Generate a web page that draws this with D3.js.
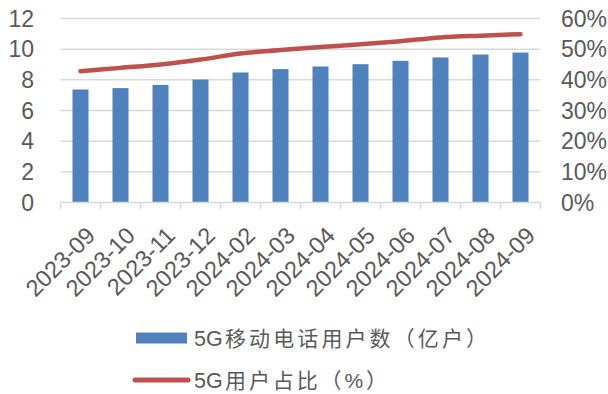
<!DOCTYPE html>
<html><head><meta charset="utf-8">
<script src="https://cdn.jsdelivr.net/npm/d3@7/dist/d3.min.js"></script>
<style>body{margin:0;background:#fff}svg{display:block}</style>
</head><body>
<script>
const categories = ["2023-09","2023-10","2023-11","2023-12","2024-02","2024-03","2024-04","2024-05","2024-06","2024-07","2024-08","2024-09"];
const users = [7.37,7.46,7.67,8.02,8.48,8.70,8.87,9.02,9.24,9.46,9.65,9.78];
const share = [42.8,43.9,45.0,46.6,48.6,49.7,50.7,51.6,52.6,53.8,54.4,54.9];
const leftTicks = [0,2,4,6,8,10,12];
const rightTicks = [0,10,20,30,40,50,60];
const legendBar = ["5G","移动电话用户数（亿户）"];
const legendLine = ["5G","用户占比（%）"];

const W=608,H=394;
const svg=d3.select("body").append("svg").attr("width",W).attr("height",H);
const x=d3.scaleBand().domain(categories).range([60.5,540.5]).paddingInner(0.6).paddingOuter(0.3);
const xb=d3.scaleBand().domain(categories).range([60.5,540.5]);
const yL=d3.scaleLinear().domain([0,12]).range([202.5,18.5]);
const yR=d3.scaleLinear().domain([0,60]).range([202.5,18.5]);
const font='"Liberation Sans", Arial, "Noto Sans CJK SC", sans-serif';
const txt="#595959";

// gridlines
svg.append("g").selectAll("line").data(leftTicks.filter(d=>d>0)).join("line")
  .attr("x1",60.5).attr("x2",540.5).attr("y1",d=>yL(d)).attr("y2",d=>yL(d))
  .attr("stroke","#D9D9D9").attr("stroke-width",1.5);

// bars
svg.append("g").selectAll("rect").data(users).join("rect")
  .attr("x",(d,i)=>x(categories[i])).attr("width",x.bandwidth())
  .attr("y",d=>yL(d)).attr("height",d=>yL(0)-yL(d))
  .attr("fill","#4F81BD");

// x axis
const gx=svg.append("g").attr("transform",`translate(0,${yL(0)})`);
gx.append("line").attr("x1",60.5).attr("x2",540.5).attr("stroke","#D9D9D9").attr("stroke-width",1.5);
const bounds=categories.map(c=>xb(c)).concat([xb(categories[categories.length-1])+xb.bandwidth()]);
gx.selectAll("line.t").data(bounds).join("line").attr("class","t")
  .attr("x1",d=>d).attr("x2",d=>d).attr("y1",0).attr("y2",7)
  .attr("stroke","#D9D9D9").attr("stroke-width",1.5);
gx.selectAll("text").data(categories).join("text")
  .attr("transform",d=>`translate(${xb(d)+xb.bandwidth()/2+4},${22.5}) rotate(-45)`)
  .attr("text-anchor","end").attr("dy","0.72em")
  .attr("font-family",font).attr("font-size",23.5).attr("fill",txt).text(d=>d);

// left axis labels
svg.append("g").selectAll("text").data(leftTicks).join("text")
  .attr("x",34).attr("y",d=>yL(d)).attr("dy","0.36em").attr("text-anchor","end")
  .attr("font-family",font).attr("font-size",23).attr("fill",txt).text(d=>d);
// right axis labels
svg.append("g").selectAll("text").data(rightTicks).join("text")
  .attr("x",561).attr("y",d=>yR(d)).attr("dy","0.36em").attr("text-anchor","start")
  .attr("font-family",font).attr("font-size",23).attr("fill",txt).text(d=>d+"%");

// line
const line=d3.line().x((d,i)=>xb(categories[i])+xb.bandwidth()/2).y(d=>yR(d)).curve(d3.curveMonotoneX);
svg.append("path").datum(share).attr("d",line).attr("fill","none")
  .attr("stroke","#C0504D").attr("stroke-width",4.5).attr("stroke-linecap","round");

// legend
function legendText(parts,y,len){
  svg.append("text").attr("x",194).attr("y",y).attr("dy","0.36em")
    .attr("font-family",font).attr("font-size",21.5).attr("fill",txt).text(parts[0]);
  svg.append("text").attr("x",225).attr("y",y).attr("dy","0.36em")
    .attr("font-family",font).attr("font-size",21).attr("fill",txt)
    .attr("textLength",len).attr("lengthAdjust","spacing").text(parts[1]);
}
svg.append("rect").attr("x",136).attr("y",332.5).attr("width",51).attr("height",11).attr("fill","#4F81BD");
legendText(legendBar,338,262);
svg.append("line").attr("x1",135).attr("x2",188).attr("y1",380).attr("y2",380)
  .attr("stroke","#C0504D").attr("stroke-width",5).attr("stroke-linecap","round");
legendText(legendLine,380,162);
</script>
</body></html>
